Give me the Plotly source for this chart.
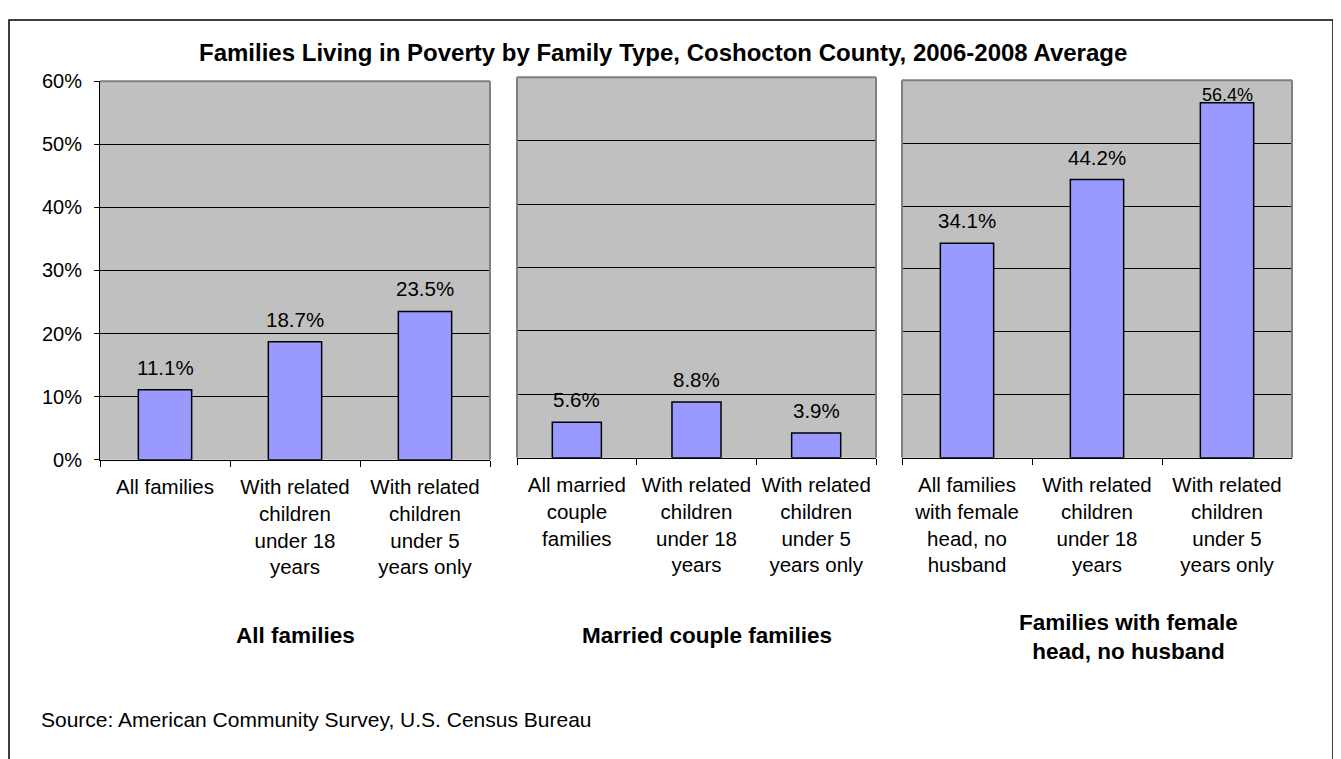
import plotly.graph_objects as go

# ── Data ──────────────────────────────────────────────────────────────────────
title_text = "Families Living in Poverty by Family Type, Coshocton County, 2006-2008 Average"

cats_all = ["All families", "With related<br>children<br>under 18<br>years",
            "With related<br>children<br>under 5<br>years only"]
cats_married = ["All married<br>couple<br>families", "With related<br>children<br>under 18<br>years",
                "With related<br>children<br>under 5<br>years only"]
cats_female = ["All families<br>with female<br>head, no<br>husband", "With related<br>children<br>under 18<br>years",
               "With related<br>children<br>under 5<br>years only"]

vals_all     = [0.111, 0.187, 0.235]
vals_married = [0.056, 0.088, 0.039]
vals_female  = [0.341, 0.442, 0.564]

group_labels = ["All families", "Married couple families", "Families with female<br>head, no husband"]
source_text = "Source: American Community Survey, U.S. Census Bureau"

# ── Layout geometry (pixels of the 1341x759 page; the page body adds an 8px margin) ──
OFF = 8
W, H = 1341 - OFF, 759 - OFF
FONT = "Liberation Sans, Arial, sans-serif"
px_x = lambda v: (v - OFF) / W
px_y = lambda v: 1 - (v - OFF) / H
Y_MAX = 0.6

panels = [
    # x0, x1, ytop, ybottom
    (100, 490, 72, 462),
    (517, 876, 68, 460),
    (902, 1292, 71, 460),
]

fig = go.Figure()
series = [(cats_all, vals_all), (cats_married, vals_married), (cats_female, vals_female)]
annotations = []

for i, (cats, vals) in enumerate(series):
    ax = "" if i == 0 else str(i + 1)
    fig.add_trace(go.Bar(
        x=cats, y=vals,
        xaxis="x" + ax, yaxis="y" + ax,
        marker=dict(color="#9999FF", line=dict(color="#000000", width=1.5)),
        showlegend=False, hoverinfo="skip",
    ))
    # value labels above the bars (squeezed down when close to the top of the panel)
    for c, v in zip(cats, vals):
        near_top = v > Y_MAX - 0.05
        annotations.append(dict(
            text=f"{v * 100:.1f}%", x=c, y=v, xref="x" + ax, yref="y" + ax,
            showarrow=False, xanchor="center", yanchor="bottom",
            yshift=-4 if near_top else 9,
            font=dict(family=FONT, size=18 if near_top else 20.5, color="#000000"),
        ))

layout = dict(
    width=W, height=H,
    margin=dict(l=0, r=0, t=0, b=0),
    paper_bgcolor="#FFFFFF", plot_bgcolor="#C0C0C0",
    bargap=0.59,
    font=dict(family=FONT, size=20, color="#000000"),
    showlegend=False,
)

shapes = []
for i, (x0, x1, yt, yb) in enumerate(panels):
    ax = "" if i == 0 else str(i + 1)
    layout["xaxis" + ax] = dict(
        domain=[px_x(x0), px_x(x1)], anchor="y" + ax,
        type="category", tickson="boundaries",
        showline=True, linecolor="#000000", linewidth=1,
        ticks="outside", ticklen=6, tickcolor="#000000",
        ticklabelstandoff=9,
        tickfont=dict(family=FONT, size=20.5, color="#000000"),
        showgrid=False, fixedrange=True,
    )
    layout["yaxis" + ax] = dict(
        domain=[px_y(yb), px_y(yt)], anchor="x" + ax,
        range=[0, Y_MAX], dtick=0.1, tickformat=".0%",
        showgrid=True, gridcolor="#000000", gridwidth=1,
        zeroline=False, fixedrange=True,
        showticklabels=(i == 0),
        showline=(i == 0), linecolor="#000000", linewidth=1,
        ticks="outside" if i == 0 else "", ticklen=5, tickcolor="#000000",
        ticklabelstandoff=8,
        tickfont=dict(family=FONT, size=20, color="#000000"),
    )
    xr, yr = "x" + ax + " domain", "y" + ax + " domain"
    edges = [(0, 1, 1, 1), (1, 1, 0, 1)]
    if i > 0:
        edges.append((0, 0, 0, 1))
    for ex0, ex1, ey0, ey1 in edges:
        shapes.append(dict(type="line", xref=xr, yref=yr, x0=ex0, x1=ex1, y0=ey0, y1=ey1,
                           line=dict(color="#808080", width=2), layer="above"))

# outer border
shapes.append(dict(type="rect", xref="paper", yref="paper",
                   x0=px_x(9), x1=px_x(1333), y0=px_y(775), y1=px_y(9),
                   line=dict(color="#000000", width=1.5), layer="below"))
layout["shapes"] = shapes

annotations += [
    dict(text="<b>" + title_text + "</b>", x=px_x(663), y=px_y(43), xref="paper", yref="paper",
         showarrow=False, xanchor="center", yanchor="middle",
         font=dict(family=FONT, size=24, color="#000000")),
    dict(text=source_text, x=px_x(39), y=px_y(730), xref="paper", yref="paper",
         showarrow=False, xanchor="left", yanchor="middle",
         font=dict(family=FONT, size=21, color="#000000")),
]
group_pos = [(295, 643), (707, 643), (1128, 645)]
for lab, (gx, gy) in zip(group_labels, group_pos):
    annotations.append(dict(text="<b>" + lab + "</b>", x=px_x(gx), y=px_y(gy), xref="paper", yref="paper",
                            showarrow=False, xanchor="center", yanchor="middle",
                            font=dict(family=FONT, size=22.5, color="#000000")))
layout["annotations"] = annotations

fig.update_layout(**layout)
fig.write_html("out.html")
